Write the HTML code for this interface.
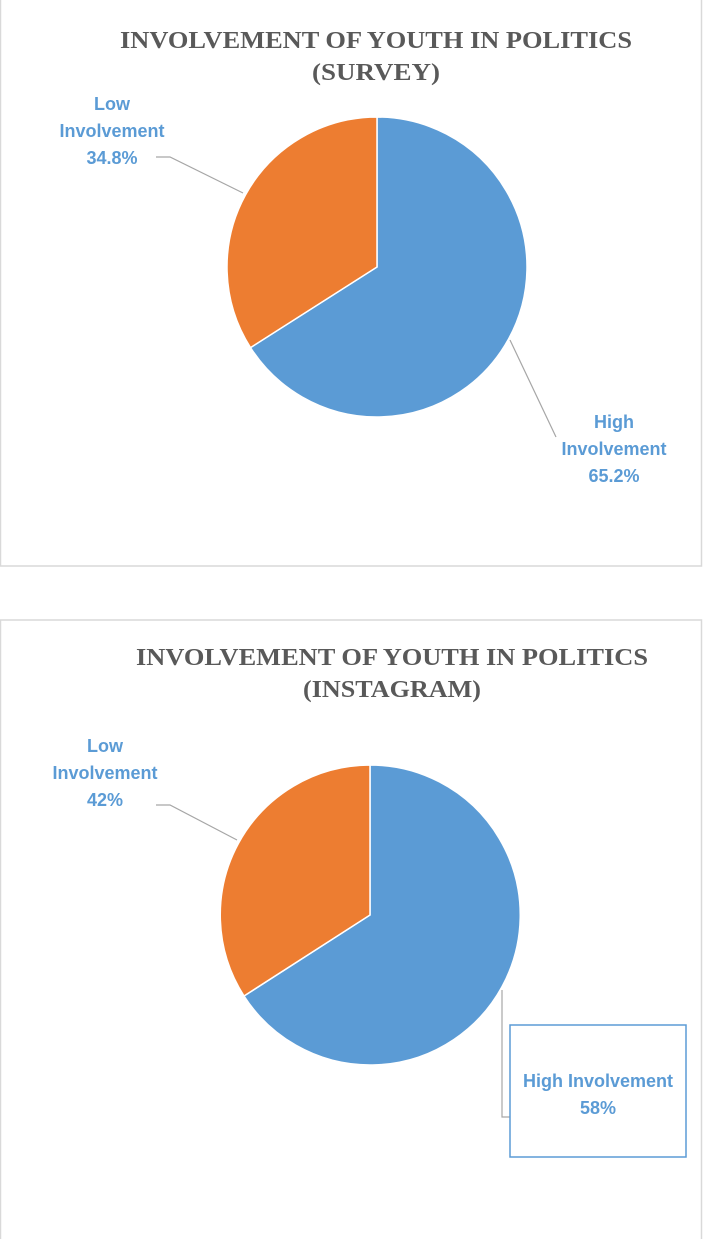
<!DOCTYPE html>
<html><head><style>
body{margin:0;width:703px;height:1239px;background:#fff;overflow:hidden}
svg{display:block}
</style></head><body>
<svg width="703" height="1239" viewBox="0 0 703 1239">
<rect x="0.5" y="-5" width="701" height="571" fill="none" stroke="#d9d9d9" stroke-width="1.5"/>
<rect x="0.5" y="620" width="701" height="630" fill="none" stroke="#d9d9d9" stroke-width="1.5"/>
<g font-family="Liberation Serif,serif" font-weight="bold" font-size="24" fill="#595959">
<text x="120" y="48" textLength="512" lengthAdjust="spacingAndGlyphs">INVOLVEMENT OF YOUTH IN POLITICS</text>
<text x="312" y="80" textLength="128" lengthAdjust="spacingAndGlyphs">(SURVEY)</text>
<text x="136" y="665" textLength="512" lengthAdjust="spacingAndGlyphs">INVOLVEMENT OF YOUTH IN POLITICS</text>
<text x="303" y="697" textLength="178" lengthAdjust="spacingAndGlyphs">(INSTAGRAM)</text>
</g>
<path d="M377,267 L377,117 A150,150 0 1 1 250.5,347.6 Z" fill="#5b9bd5" stroke="#fff" stroke-width="1.5"/>
<path d="M377,267 L250.5,347.6 A150,150 0 0 1 377,117 Z" fill="#ed7d31" stroke="#fff" stroke-width="1.5"/>
<path d="M370,915 L370,765 A150,150 0 1 1 244,996 Z" fill="#5b9bd5" stroke="#fff" stroke-width="1.5"/>
<path d="M370,915 L244,996 A150,150 0 0 1 370,765 Z" fill="#ed7d31" stroke="#fff" stroke-width="1.5"/>
<g fill="none" stroke="#a6a6a6" stroke-width="1.2">
<polyline points="156,157 170,157 243,193"/>
<polyline points="510,340 556,437"/>
<polyline points="156,805 170,805 237,840"/>
<polyline points="502,990 502,1117 510,1117"/>
</g>
<rect x="510" y="1025" width="176" height="132" fill="#fff" stroke="#5b9bd5" stroke-width="1.5"/>
<g font-family="Liberation Sans,sans-serif" font-weight="bold" font-size="18" fill="#5b9bd5" text-anchor="middle">
<text x="112" y="110">Low</text>
<text x="112" y="137">Involvement</text>
<text x="112" y="164">34.8%</text>
<text x="614" y="428">High</text>
<text x="614" y="455">Involvement</text>
<text x="614" y="482">65.2%</text>
<text x="105" y="752">Low</text>
<text x="105" y="779">Involvement</text>
<text x="105" y="806">42%</text>
<text x="598" y="1087">High Involvement</text>
<text x="598" y="1114">58%</text>
</g>
</svg>
</body></html>
